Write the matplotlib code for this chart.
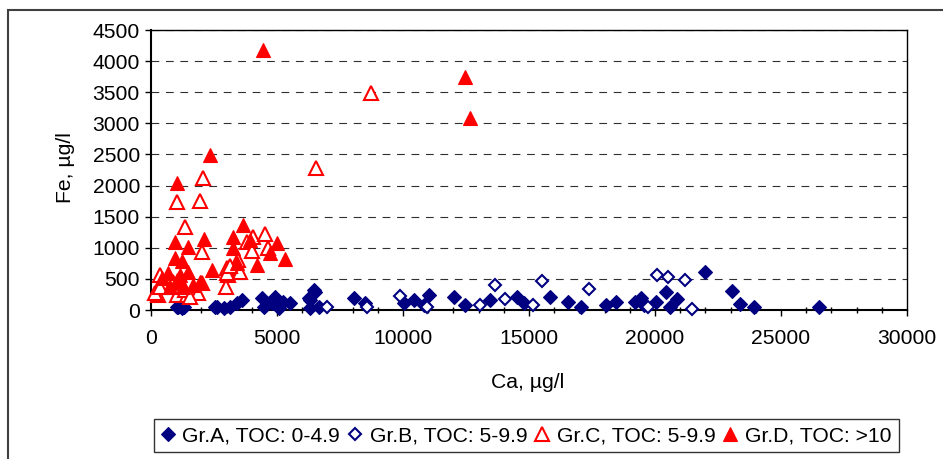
import matplotlib
matplotlib.use('Agg')
import matplotlib.pyplot as plt
from matplotlib.patches import Rectangle
from matplotlib.ticker import MultipleLocator

plt.rcParams['font.family'] = ['Liberation Sans', 'DejaVu Sans']

# Gr.A, TOC: 0-4.9 (filled diamonds)
a_ca = [1020, 1220, 1085, 1325, 2545, 2610, 2900, 3140, 3405, 3605, 4400, 4465, 4930, 4795,
        5255, 5060, 5525, 6515, 6320, 6650, 6450, 6250, 6320, 8040, 8500, 10030, 10430,
        11020, 10820, 12015, 12480, 13470, 14505, 14820, 15850, 16545, 17075, 18040,
        18440, 19210, 19430, 19570, 20030, 20425, 20600, 20890, 21990, 23075, 23380,
        23935, 26520]
a_fe = [55, 25, 55, 55, 55, 55, 25, 55, 105, 160, 190, 55, 215, 105,
        135, 25, 105, 295, 160, 55, 320, 190, 25, 190, 105, 105, 160,
        240, 80, 215, 80, 160, 215, 105, 215, 125, 55, 80,
        125, 125, 200, 80, 135, 295, 55, 175, 615, 305, 90,
        55, 55]

# Gr.B, TOC: 5-9.9 (open diamonds)
b_ca = [6970, 8570, 9895, 10955, 13075, 13645, 14030, 15150, 15525, 17380, 20095,
        20520, 21195, 19725, 21460]
b_fe = [55, 55, 230, 55, 80, 400, 170, 80, 460, 340, 560,
        525, 490, 45, 15]

# Gr.C, TOC: 5-9.9 (open triangles)
c_ca = [8740, 6555, 2080, 1020, 1950, 1350, 2015, 4065, 4530, 3800, 4000, 4660, 3470,
        3010, 3070, 3535, 2980, 360, 265, 160, 1020, 1415, 1880, 2015, 875, 1350,
        360, 3005, 3140, 1550]
c_fe = [3490, 2280, 2115, 1740, 1750, 1340, 940, 1180, 1215, 1100, 950, 990, 805,
        670, 560, 615, 375, 560, 240, 270, 240, 240, 270, 430, 455, 320,
        375, 590, 700, 215]

# Gr.D, TOC: >10 (filled triangles)
d_ca = [4450, 12480, 12640, 2345, 1020, 955, 1480, 2120, 3670, 3270, 3270, 3935, 4995,
        5325, 4200, 4730, 2410, 955, 1245, 660, 1150, 1480, 425, 1950, 1285, 755,
        1680, 1020, 3400]
d_fe = [4180, 3745, 3085, 2490, 2040, 1100, 1020, 1140, 1365, 1180, 990, 1125, 1070,
        815, 725, 910, 645, 830, 780, 590, 560, 615, 510, 455, 375, 375,
        400, 480, 750]

navy = '#000080'
red = '#FF0000'
fs = 15.2

fig = plt.figure(figsize=(9.43, 4.59), dpi=100)
ax = fig.add_axes([151 / 943, 1 - 310 / 459, 756 / 943, 280 / 459])

ax.plot(a_ca, a_fe, 'D', color=navy, markersize=7, markeredgewidth=0.8,
        linestyle='none', clip_on=False, label='Gr.A, TOC: 0-4.9', zorder=3)
ax.plot(b_ca, b_fe, 'D', markerfacecolor='white', markeredgecolor=navy, markersize=6.3,
        markeredgewidth=1.5, linestyle='none', clip_on=False, label='Gr.B, TOC: 5-9.9', zorder=4)
ax.plot(c_ca, c_fe, '^', markerfacecolor='white', markeredgecolor=red, markersize=9.5,
        markeredgewidth=1.5, linestyle='none', clip_on=False, label='Gr.C, TOC: 5-9.9', zorder=5)
ax.plot(d_ca, d_fe, '^', color=red, markersize=10.5, markeredgewidth=0.8,
        linestyle='none', clip_on=False, label='Gr.D, TOC: >10', zorder=6)

ax.set_xlim(0, 30000)
ax.set_ylim(0, 4500)
ax.xaxis.set_major_locator(MultipleLocator(5000))
ax.xaxis.set_minor_locator(MultipleLocator(1000))
ax.yaxis.set_major_locator(MultipleLocator(500))

ax.yaxis.grid(True, color='#303030', linewidth=0.8, linestyle=(0, (7, 6)))
ax.set_axisbelow(True)

for side in ['left', 'bottom']:
    ax.spines[side].set_linewidth(1.5)
for side in ['top', 'right']:
    ax.spines[side].set_linewidth(1.0)

ax.tick_params(axis='both', which='major', direction='out', length=4, width=1,
               labelsize=fs, colors='black')
ax.tick_params(axis='x', which='major', pad=10)
ax.tick_params(axis='y', which='major', pad=4)
ax.tick_params(axis='x', which='minor', direction='inout', length=5, width=1)

ax.set_xlabel('Ca, µg/l', fontsize=fs)
ax.set_ylabel('Fe, µg/l', fontsize=fs)
ax.xaxis.set_label_coords(0.4987, -0.225)
ax.yaxis.set_label_coords(-0.1, 0.507)

leg = fig.legend(loc='center', bbox_to_anchor=(526.5 / 943, 1 - 435.5 / 459), ncol=4,
                 fontsize=fs, frameon=True, fancybox=False, shadow=False,
                 handlelength=0.6, handletextpad=0.4, columnspacing=0.4,
                 borderpad=0.35, borderaxespad=0)
leg.get_frame().set_edgecolor('black')
leg.get_frame().set_linewidth(1.0)

# outer chart border (only top and left edges fall inside the picture)
fig.add_artist(Rectangle((8 / 943, -0.5), 2, 0.5 + (1 - 10 / 459), transform=fig.transFigure,
                         fill=False, edgecolor='#404040', linewidth=1.5))

fig.savefig('out.png', dpi=100)
